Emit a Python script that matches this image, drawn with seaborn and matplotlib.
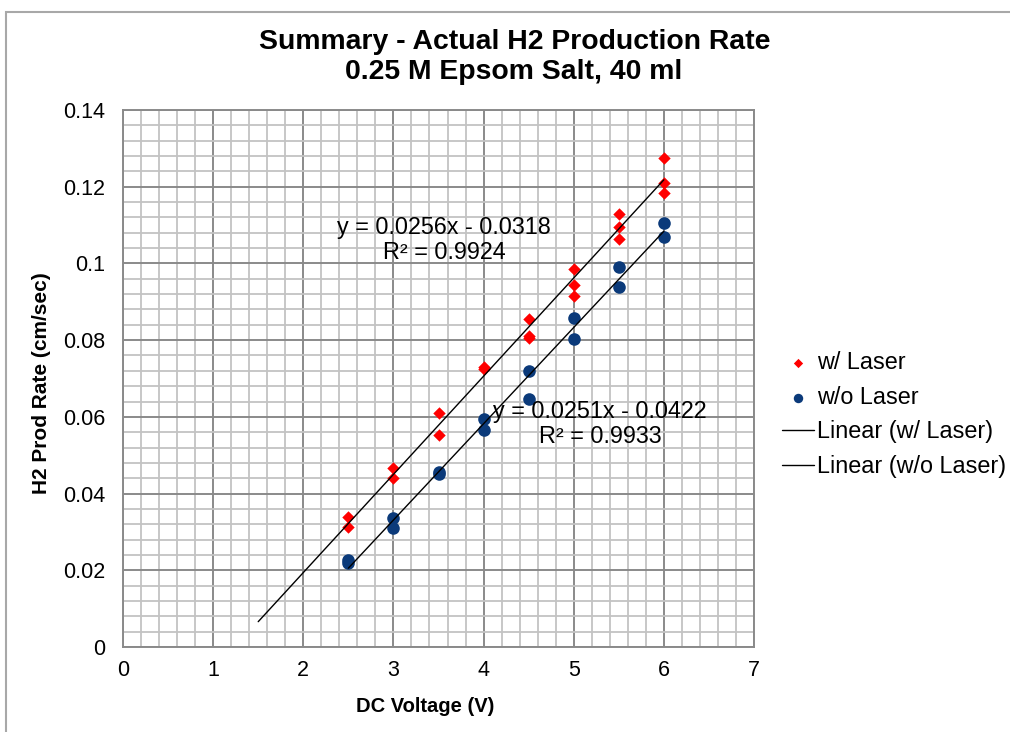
import numpy as np
import pandas as pd
import matplotlib
matplotlib.use("Agg")
import matplotlib.pyplot as plt
from matplotlib.patches import Rectangle
from matplotlib.ticker import FuncFormatter
import seaborn as sns

# ---- data ----
laser_x = [2.5, 2.5, 3, 3, 3.5, 3.5, 4, 4, 4.5, 4.5, 4.5, 5, 5, 5, 5.5, 5.5, 5.5, 6, 6, 6]
laser_y = [0.0338, 0.0314, 0.0466, 0.0440, 0.0611, 0.0553, 0.0730, 0.0725,
           0.0855, 0.0810, 0.0806, 0.0985, 0.0944, 0.0916, 0.1129, 0.1096, 0.1064,
           0.1274, 0.1209, 0.1183]
nolaser_x = [2.5, 2.5, 3, 3, 3.5, 3.5, 4, 4, 4.5, 4.5, 5, 5, 5.5, 5.5, 6, 6]
nolaser_y = [0.0227, 0.0218, 0.0336, 0.0309, 0.0455, 0.0452, 0.0594, 0.0566,
             0.0720, 0.0647, 0.0857, 0.0802, 0.0991, 0.0939, 0.1105, 0.1070]

trend_names = ["Linear (w/ Laser)", "Linear (w/o Laser)"]
trend_slope = [0.0256, 0.0251]
trend_icept = [-0.0318, -0.0422]
trend_r2 = [0.9924, 0.9933]
trend_start = [1.5, 2.5]
trend_end = [6.0, 6.0]

x_ticks = [0, 1, 2, 3, 4, 5, 6, 7]
y_ticks = [0, 0.02, 0.04, 0.06, 0.08, 0.1, 0.12, 0.14]

title1 = "Summary - Actual H2 Production Rate"
title2 = "0.25 M Epsom Salt, 40 ml"
xlabel = "DC Voltage (V)"
ylabel = "H2 Prod Rate (cm/sec)"

# ---- style ----
sns.set_theme(style="white")
plt.rcParams["font.family"] = ["Liberation Sans", "DejaVu Sans"]
plt.rcParams["text.color"] = "black"
plt.rcParams["axes.labelcolor"] = "black"

fig = plt.figure(figsize=(10.1, 7.32), dpi=100)
ax = fig.add_axes([123/1010, 1-647/732, (754-123)/1010, (647-110)/732])

major_c = "#8a8a8a"
minor_c = "#c3c3c3"

ax.set_xlim(0, 7)
ax.set_ylim(0, 0.14)
ax.set_xticks(x_ticks)
ax.set_yticks(y_ticks)
ax.set_xticks(np.linspace(0, 7, 36), minor=True)
ax.set_yticks(np.linspace(0, 0.14, 36), minor=True)
ax.yaxis.set_major_formatter(FuncFormatter(lambda v, p: f"{v:g}"))
ax.xaxis.set_major_formatter(FuncFormatter(lambda v, p: f"{v:g}"))
ax.grid(True, which="minor", color=minor_c, lw=1.3, zorder=0)
ax.grid(True, which="major", color=major_c, lw=1.4, zorder=0.5)
ax.set_axisbelow(True)
ax.tick_params(which="minor", length=0)
ax.tick_params(which="major", direction="out", length=5, width=1.2, color=major_c,
               labelsize=15.5, labelcolor="black")
ax.tick_params(axis="y", pad=8)
ax.tick_params(axis="x", pad=4)
for s in ax.spines.values():
    s.set_color(major_c)
    s.set_linewidth(1.4)

df_l = pd.DataFrame({"x": laser_x, "y": laser_y})
df_n = pd.DataFrame({"x": nolaser_x, "y": nolaser_y})
sns.scatterplot(data=df_l, x="x", y="y", ax=ax, marker="D", s=40, color="#ff0000",
                linewidth=0, label="w/ Laser", zorder=3)
sns.scatterplot(data=df_n, x="x", y="y", ax=ax, marker="o", s=82, color="#0b3a7a",
                linewidth=0, label="w/o Laser", zorder=3)

for i in range(2):
    tx = np.array([trend_start[i], trend_end[i]])
    ty = trend_slope[i] * tx + trend_icept[i]
    sns.lineplot(x=tx, y=ty, ax=ax, color="black", lw=1.0, label=trend_names[i], zorder=4)

ax.set_xlabel("")
ax.set_ylabel("")

# equation labels
ax.text(3.56, 0.1061, f"y = {trend_slope[0]}x - {abs(trend_icept[0])}\nR² = {trend_r2[0]}",
        ha="center", va="center", fontsize=16.8, linespacing=1.15, zorder=5)
ax.text(5.29, 0.0581, f"y = {trend_slope[1]}x - {abs(trend_icept[1])}\nR² = {trend_r2[1]}",
        ha="center", va="center", fontsize=16.8, linespacing=1.15, zorder=5)

if ax.get_legend() is not None:
    ax.get_legend().remove()
h, l = ax.get_legend_handles_labels()
fig.legend(h, l, loc="center left", bbox_to_anchor=(782/1010, 1-414.5/732),
           frameon=False, fontsize=16.8, handlelength=1.35, handletextpad=0.15,
           labelspacing=0.5, markerscale=0.75, borderaxespad=0, borderpad=0)

fig.text(515/1010, 1-42/732, title1, ha="center", va="center", fontsize=20.4, fontweight="bold")
fig.text(514/1010, 1-72/732, title2, ha="center", va="center", fontsize=20.4, fontweight="bold")
fig.text(425/1010, 1-706/732, xlabel, ha="center", va="center", fontsize=14.5, fontweight="bold")
fig.text(42/1010, 1-383/732, ylabel, ha="center", va="center", rotation=90,
         fontsize=15, fontweight="bold")

fig.patches.append(Rectangle((6/1010, -0.05), 1.2, 1-12/732+0.05, transform=fig.transFigure,
                             fill=False, edgecolor="#a8a8a8", lw=1.5))

fig.savefig("out.png", dpi=100)
